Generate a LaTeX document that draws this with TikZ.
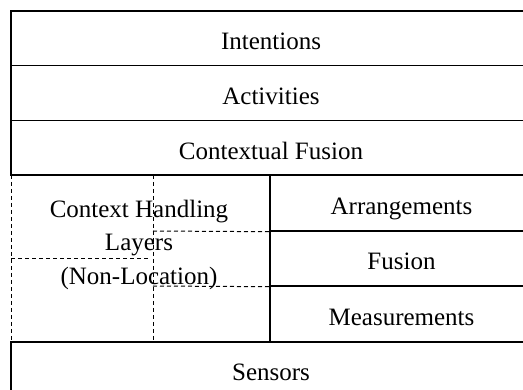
\documentclass[tikz,border=0pt]{standalone}
\usepackage{fontspec}
\setmainfont{Liberation Serif}
\begin{document}
\begin{tikzpicture}[x=1pt,y=-1pt,
  layer/.style={draw=black, line width=1.4pt, rectangle, inner sep=0pt, text height=23pt, text depth=0pt, font=\fontsize{25}{33.5}\selectfont},
  dashln/.style={draw=black, line width=1pt, dash pattern=on 4pt off 3pt}]
\useasboundingbox (0,0) rectangle (523,390);
\node[layer, minimum width=520pt, minimum height=54.7pt] (int) at (271,38.3) {Intentions};
\node[layer, minimum width=520pt, minimum height=55pt] (act) at (271,93.2) {Activities};
\node[layer, minimum width=520pt, minimum height=54.3pt] (cf) at (271,147.8) {Contextual Fusion};
\node[layer, minimum width=263pt, minimum height=56pt] (arr) at (401.5,203) {Arrangements};
\node[layer, minimum width=263pt, minimum height=55pt] (fus) at (401.5,258.5) {Fusion};
\node[layer, minimum width=263pt, minimum height=56pt] (mea) at (401.5,314) {Measurements};
\node[layer, minimum width=520pt, minimum height=55pt] (sen) at (271,369.5) {Sensors};
% dashed context handling region
\coordinate (lt) at (11,175);
\coordinate (lb) at (11,342);
\coordinate (mt) at (153,175);
\coordinate (mb) at (153,342);
\coordinate (lh1) at (11,259);
\coordinate (lh2) at (150,259);
\coordinate (rh1) at (153,231);
\coordinate (rh2) at (153,286);
\draw[dashln] (lt) -- (lb);
\draw[dashln] (mt) -- (mb);
\draw[dashln] (lh1) -- (lh2);
\draw[dashln] (rh1) -- (arr.south west);
\draw[dashln] (rh2) -- (fus.south west);
\node[align=center, inner sep=0pt, font=\fontsize{25}{33.5}\selectfont] (chl) at (139,244.5) {Context Handling\\Layers\\(Non-Location)};
\end{tikzpicture}
\end{document}
